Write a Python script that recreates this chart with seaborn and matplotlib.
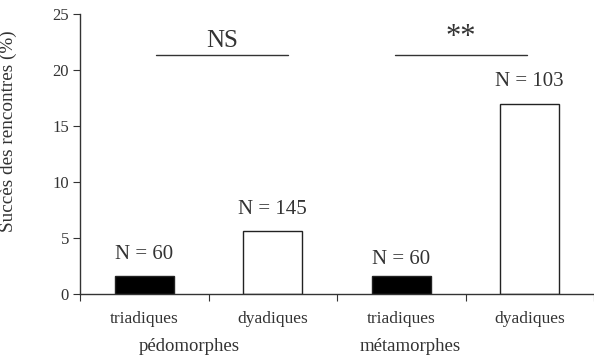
import matplotlib
matplotlib.use("Agg")
import matplotlib.pyplot as plt
import matplotlib.transforms as mtransforms
import pandas as pd
import seaborn as sns

# data
groups = ["pédomorphes", "pédomorphes", "métamorphes", "métamorphes"]
types = ["triadiques", "dyadiques", "triadiques", "dyadiques"]
success = [1.6, 5.6, 1.6, 17.0]
n_labels = ["N = 60", "N = 145", "N = 60", "N = 103"]
sig_labels = ["NS", "**"]

df = pd.DataFrame({"groupe": groups, "type": types, "succes": success})
df["cond"] = df["groupe"] + " " + df["type"]

sns.set_style("ticks")
plt.rcParams["font.family"] = ["Liberation Serif", "DejaVu Serif"]
ink = "#333333"

fig = plt.figure(figsize=(5.94, 3.62), dpi=100)
ax = fig.add_axes([0.1347, 0.1878, 0.8653, 0.7735])

sns.barplot(data=df, x="cond", y="succes", hue="type",
            palette={"triadiques": "black", "dyadiques": "white"},
            edgecolor="#222222", linewidth=1.0, width=0.46,
            dodge=False, legend=False, ax=ax)

ax.set_xlim(-0.5, 3.46)
ax.set_ylim(0, 25)
ax.set_yticks([0, 5, 10, 15, 20, 25])
sns.despine(ax=ax)
for s in ["left", "bottom"]:
    ax.spines[s].set_color(ink)
    ax.spines[s].set_linewidth(1.0)

# category boundaries as ticks, labels on minor ticks
ax.set_xticks([-0.5, 0.5, 1.5, 2.5, 3.5])
ax.set_xticklabels([])
ax.set_xticks([0, 1, 2, 3], minor=True)
ax.set_xticklabels(types, minor=True)
ax.tick_params(axis="x", which="major", length=5, color=ink, direction="out")
ax.tick_params(axis="x", which="minor", length=0, pad=12, labelsize=12.5, labelcolor=ink)
ax.tick_params(axis="y", length=5, color=ink, labelsize=12, labelcolor=ink, pad=3)

ax.set_xlabel("")
ax.set_ylabel("Succès des rencontres (%)", fontsize=13.8, color=ink)
ax.yaxis.set_label_coords(-0.123, 0.58)

# group labels under tick labels
trans = mtransforms.blended_transform_factory(ax.transData, ax.transAxes)
for x, g in zip([0.35, 2.07], ["pédomorphes", "métamorphes"]):
    ax.text(x, -0.187, g, transform=trans, ha="center", va="center",
            fontsize=13.5, color=ink)

# N labels above bars
n_offsets = [9, 9, 5, 9]
for i, (v, lab) in enumerate(zip(success, n_labels)):
    ax.annotate(lab, (i, v), xytext=(0, n_offsets[i]), textcoords="offset points",
                ha="center", va="bottom", fontsize=15, color=ink)

# significance bars
for (x0, x1), lab in zip([(0.09, 1.12), (1.95, 2.98)], sig_labels):
    ax.plot([x0, x1], [21.3, 21.3], color=ink, linewidth=1.0, clip_on=False)
    ax.text((x0 + x1) / 2, 21.6, lab, ha="center", va="bottom",
            fontsize=18 if lab == "NS" else 22, color=ink)

fig.savefig("out.png", dpi=100)
